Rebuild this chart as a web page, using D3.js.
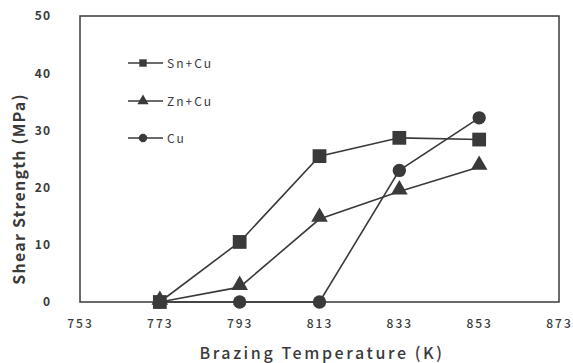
<!DOCTYPE html>
<html><head><meta charset="utf-8">
<script src="https://cdn.jsdelivr.net/npm/d3@7"></script>
<style>body{margin:0;background:#fff}svg{display:block}</style>
</head><body>
<svg id="c" width="573" height="363"></svg>
<script>
const temps = [773, 793, 813, 833, 853];
const snCu = [0, 10.5, 25.5, 28.7, 28.4];
const znCu = [0, 2.6, 14.5, 19.3, 23.6];
const cu = [0, 0, 0, 23, 32.2];
const xTicks = [753, 773, 793, 813, 833, 853, 873];
const yTicks = [0, 10, 20, 30, 40, 50];
const seriesNames = ["Sn+Cu", "Zn+Cu", "Cu"];
const seriesSymbols = [d3.symbolSquare, d3.symbolTriangle, d3.symbolCircle];

const col = "#3a3a3a";
const font = "'Noto Sans CJK JP', 'DejaVu Sans', sans-serif";
const svg = d3.select("#c");
const m = {l: 80, r: 559, t: 16, b: 302};
const x = d3.scaleLinear().domain([753, 873]).range([m.l, m.r]);
const y = d3.scaleLinear().domain([0, 50]).range([m.b, m.t]);

svg.append("rect").attr("x", m.l).attr("y", m.t).attr("width", m.r - m.l).attr("height", m.b - m.t)
  .attr("fill", "none").attr("stroke", col).attr("stroke-width", 1.5);

const xa = svg.append("g").attr("transform", `translate(0,${m.b})`)
  .call(d3.axisBottom(x).tickValues(xTicks).tickSize(0).tickPadding(17).tickFormat(d3.format("d")));
xa.select(".domain").remove();
xa.selectAll("text").attr("font-family", font).attr("font-size", 12).attr("font-weight", 500)
  .attr("letter-spacing", 2).attr("fill", col);

const ya = svg.append("g").attr("transform", `translate(${m.l},0)`)
  .call(d3.axisLeft(y).tickValues(yTicks).tickSize(0).tickPadding(29).tickFormat(d3.format("d")));
ya.select(".domain").remove();
ya.selectAll("text").attr("font-family", font).attr("font-size", 12).attr("font-weight", 600)
  .attr("letter-spacing", 1).attr("fill", col);

svg.append("text").attr("x", 322).attr("y", 359).attr("text-anchor", "middle")
  .attr("font-family", font).attr("font-size", 16).attr("font-weight", 500).attr("fill", col)
  .attr("letter-spacing", 2.6).text("Brazing Temperature (K)");
svg.append("text").attr("transform", "translate(25,189) rotate(-90)").attr("text-anchor", "middle")
  .attr("font-family", font).attr("font-size", 16).attr("font-weight", 600).attr("fill", col)
  .attr("letter-spacing", 1.2).text("Shear Strength (MPa)");

const allSeries = [snCu, znCu, cu];
const line = d3.line().x((d, i) => x(temps[i])).y(d => y(d));
allSeries.forEach((s, k) => {
  svg.append("path").datum(s).attr("d", line).attr("fill", "none").attr("stroke", col).attr("stroke-width", 1.6);
});
const sizes = [190, 120, 140];
allSeries.forEach((s, k) => {
  svg.selectAll(null).data(s).enter().append("path")
    .attr("transform", (d, i) => `translate(${x(temps[i])},${y(d) + (k === 1 ? -2 : 0)})`)
    .attr("d", d3.symbol().type(seriesSymbols[k]).size(sizes[k])).attr("fill", col);
});

// legend
const ly = [63, 101, 138];
seriesNames.forEach((n, k) => {
  const g = svg.append("g").attr("transform", `translate(128,${ly[k]})`);
  g.append("line").attr("x1", 0).attr("x2", 35).attr("stroke", col).attr("stroke-width", 1.6);
  g.append("path").attr("transform", "translate(15,0)").attr("d", d3.symbol().type(seriesSymbols[k]).size(55)).attr("fill", col);
  g.append("text").attr("x", 39).attr("y", 4.5).attr("font-family", font).attr("font-size", 12)
    .attr("letter-spacing", 2).attr("fill", col).text(n);
});
</script>
</body></html>
